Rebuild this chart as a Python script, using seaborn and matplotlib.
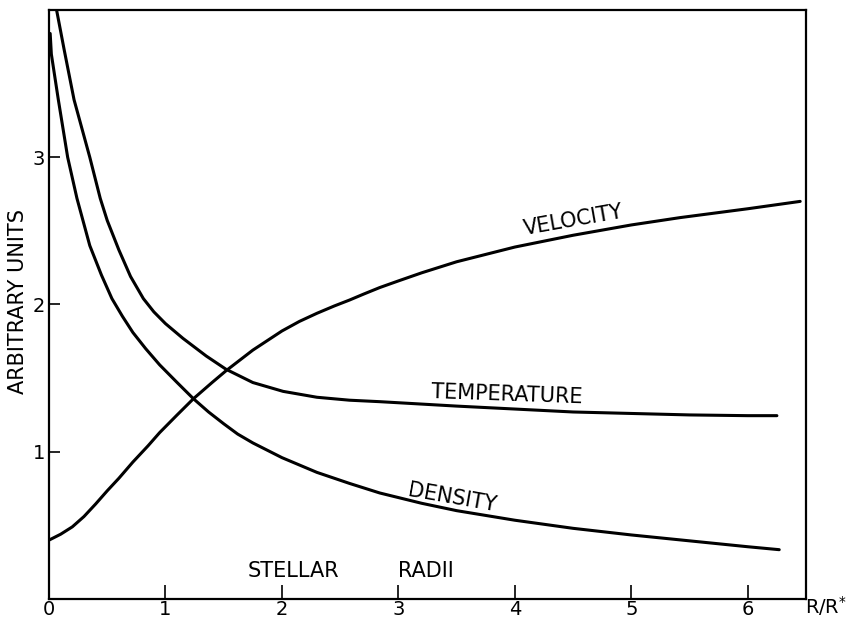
import matplotlib
matplotlib.use("Agg")
import matplotlib.pyplot as plt
import seaborn as sns
import numpy as np

# values (x in stellar radii, y in arbitrary units)
velocity_x = [0.0, 0.1, 0.2, 0.3, 0.4, 0.5, 0.6, 0.72, 0.85, 0.95, 1.1, 1.24, 1.4, 1.52, 1.75, 2.0, 2.15,
              2.3, 2.45, 2.58, 2.7, 2.84, 3.0, 3.2, 3.5, 4.0, 4.5, 5.0, 5.42, 6.0, 6.45]
velocity_y = [0.40, 0.44, 0.49, 0.56, 0.645, 0.735, 0.82, 0.93, 1.04, 1.13, 1.25, 1.36, 1.47, 1.55, 1.69, 1.82, 1.885,
              1.94, 1.99, 2.03, 2.07, 2.115, 2.16, 2.215, 2.29, 2.39, 2.47, 2.54, 2.59, 2.65, 2.70]

temperature_x = [0.06, 0.13, 0.215, 0.35, 0.44, 0.5, 0.6, 0.7, 0.81, 0.9, 1.0, 1.15, 1.35, 1.52, 1.75, 2.01, 2.3, 2.58,
                 2.84, 3.5, 4.0, 4.5, 5.0, 5.5, 6.0, 6.25]
temperature_y = [4.02, 3.73, 3.39, 3.0, 2.72, 2.57, 2.37, 2.19, 2.04, 1.95, 1.87, 1.77, 1.65, 1.56, 1.47, 1.41, 1.37, 1.35,
                 1.34, 1.31, 1.29, 1.27, 1.26, 1.25, 1.245, 1.245]

density_x = [0.01, 0.02, 0.08, 0.16, 0.24, 0.35, 0.45, 0.54, 0.63, 0.72, 0.83, 0.95, 1.1, 1.24, 1.37, 1.5, 1.62, 1.75,
             2.0, 2.3, 2.58, 2.84, 3.2, 3.5, 4.0, 4.5, 5.0, 5.5, 6.0, 6.27]
density_y = [3.84, 3.70, 3.39, 3.0, 2.72, 2.40, 2.20, 2.04, 1.92, 1.81, 1.70, 1.59, 1.47, 1.36, 1.27, 1.19, 1.12, 1.06,
             0.96, 0.86, 0.785, 0.72, 0.65, 0.60, 0.535, 0.48, 0.435, 0.395, 0.355, 0.335]

x_ticks = [0, 1, 2, 3, 4, 5, 6]
y_ticks = [1, 2, 3]

sns.set_style("ticks")
plt.rcParams["font.family"] = ["DejaVu Sans"]
plt.rcParams["text.color"] = "black"
plt.rcParams["xtick.color"] = "black"
plt.rcParams["ytick.color"] = "black"
plt.rcParams["axes.edgecolor"] = "black"

fig = plt.figure(figsize=(8.54, 6.21), dpi=100)
ax = fig.add_axes([0.0574, 0.0354, 0.8864, 0.9486])

for xs, ys in [(velocity_x, velocity_y), (temperature_x, temperature_y), (density_x, density_y)]:
    sns.lineplot(x=xs, y=ys, ax=ax, color="black", linewidth=2.2, sort=False)

ax.set_xlim(0, 6.5)
ax.set_ylim(0, 4.0)
ax.set_xticks(x_ticks)
ax.set_yticks(y_ticks)
ax.tick_params(axis="x", direction="in", length=10, width=1.2, pad=1, labelsize=14, labelcolor="black")
ax.tick_params(axis="y", direction="in", length=8, width=1.2, pad=3, labelsize=14, labelcolor="black")
for s in ax.spines.values():
    s.set_linewidth(1.6)
    s.set_visible(True)

# curve labels
ax.text(4.50, 2.57, "VELOCITY", fontsize=15, rotation=10, ha="center", va="center")
ax.text(3.93, 1.39, "TEMPERATURE", fontsize=15, rotation=-2, ha="center", va="center")
ax.text(3.46, 0.69, "DENSITY", fontsize=15, rotation=-10, ha="center", va="center")
ax.text(2.10, 0.19, "STELLAR", fontsize=15, ha="center", va="center")
ax.text(3.24, 0.19, "RADII", fontsize=15, ha="center", va="center")

fig.text(0.992, 0.024, r"R/R$^{*}$", fontsize=14, ha="right", va="center")
fig.text(0.021, 0.514, "ARBITRARY UNITS", fontsize=15, rotation=90, ha="center", va="center")

fig.savefig("out.png", dpi=100)
plt.close(fig)
